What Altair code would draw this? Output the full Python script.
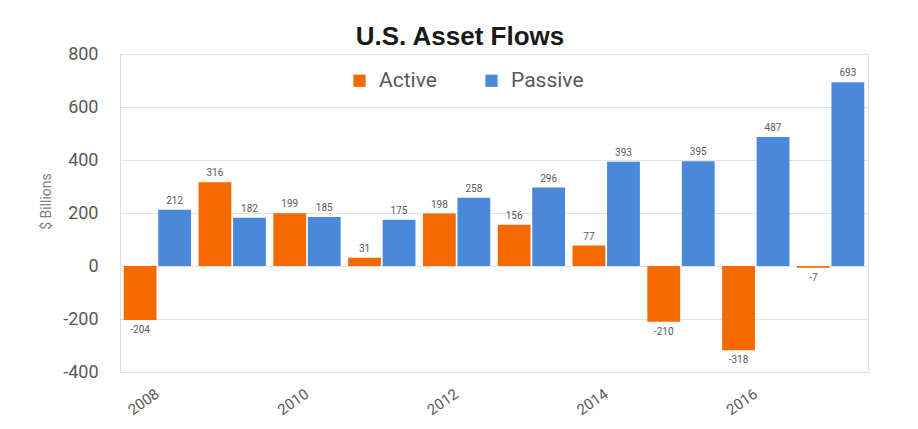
import altair as alt
import pandas as pd

years = ["2008", "2009", "2010", "2011", "2012", "2013", "2014", "2015", "2016", "2017"]
active = [-204, 316, 199, 31, 198, 156, 77, -210, -318, -7]
passive = [212, 182, 185, 175, 258, 296, 393, 395, 487, 693]
series = ["Active", "Passive"]
colors = ["#f46a00", "#4a88da"]
tick_years = ["2008", "2010", "2012", "2014", "2016"]
y_ticks = [-400, -200, 0, 200, 400, 600, 800]

rows = []
for i, yr in enumerate(years):
    rows.append({"year": yr, "series": "Active", "value": active[i]})
    rows.append({"year": yr, "series": "Passive", "value": passive[i]})
df = pd.DataFrame(rows)

FONT = "Liberation Sans Narrow, Roboto, Liberation Sans, sans-serif"
GRAY = "#595959"

x_enc = alt.X(
    "year:O",
    title=None,
    scale=alt.Scale(paddingInner=0.1, paddingOuter=0.05),
    axis=alt.Axis(
        values=tick_years, labelAngle=-35, labelAlign="right", labelBaseline="top",
        ticks=False, domain=False, grid=False, labelFontSize=15, labelColor=GRAY,
        labelPadding=14, labelOffset=-4, labelOverlap=False, labelFont=FONT,
    ),
)
y_enc = alt.Y(
    "value:Q",
    scale=alt.Scale(domain=[-400, 800], nice=False),
    axis=alt.Axis(
        values=y_ticks, title="$ Billions", grid=True, gridColor="#e3e3e3",
        ticks=False, domain=False, labelFontSize=18, labelColor=GRAY,
        labelExpr="toString(datum.value)",
        labelPadding=22, labelFont=FONT, titleFont=FONT, titleFontSize=14,
        titleFontWeight="normal", titleColor="#7f7f7f", titleX=-74, titleY=147,
        titleAngle=270, titleAlign="center", titleBaseline="middle",
    ),
)
xoff = alt.XOffset("series:N", scale=alt.Scale(paddingInner=0.05, paddingOuter=0))

base = alt.Chart(df).transform_calculate(label="toString(datum.value)")

bars = base.mark_bar().encode(
    x=x_enc,
    xOffset=xoff,
    y=y_enc,
    color=alt.Color(
        "series:N",
        scale=alt.Scale(domain=series, range=colors),
        title=None,
        legend=alt.Legend(
            orient="none", legendX=229, legendY=16, direction="horizontal",
            symbolType="square", symbolSize=150, symbolStrokeWidth=0,
            labelFontSize=21, labelColor=GRAY, labelFont=FONT, labelOffset=9,
            columnPadding=44,
        ),
    ),
)

pos_text = base.transform_filter("datum.value >= 0").mark_text(
    baseline="bottom", dy=-4, fontSize=10, color=GRAY, font=FONT
).encode(x=x_enc, xOffset=xoff, y=y_enc, text="label:N")

neg_text = base.transform_filter("datum.value < 0").mark_text(
    baseline="top", dy=5, fontSize=10, color=GRAY, font=FONT
).encode(x=x_enc, xOffset=xoff, y=y_enc, text="label:N")

chart = (
    alt.layer(bars, pos_text, neg_text)
    .properties(
        width=748,
        height=318,
        autosize=alt.AutoSizeParams(type="none"),
        padding={"left": 112, "top": 46, "right": 42, "bottom": 49},
        title=alt.TitleParams(
            "U.S. Asset Flows", fontSize=26, fontWeight="bold", color="#1a1a1a",
            font="Liberation Sans, Arial, sans-serif", anchor="middle", dx=-34, offset=-5,
        ),
    )
    .configure_view(stroke="#d9d9d9", strokeWidth=1)
    .configure(background="white")
)

chart.save("out.html", embed_options={"renderer": "svg", "actions": False})
